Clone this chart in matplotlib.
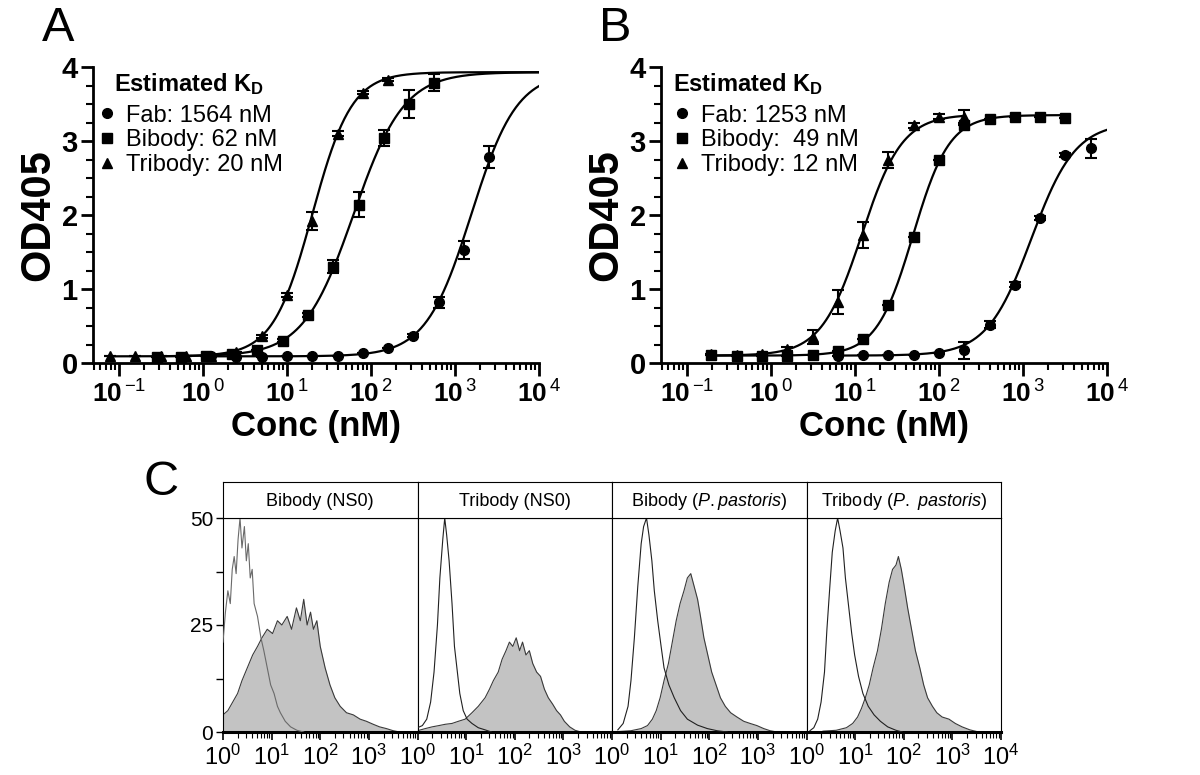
import matplotlib
matplotlib.use('Agg')
import matplotlib.pyplot as plt
import numpy as np
from matplotlib.lines import Line2D
from matplotlib.ticker import LogLocator, NullFormatter, MultipleLocator

plt.rcParams['font.family'] = ['Liberation Sans', 'DejaVu Sans']
plt.rcParams['mathtext.fontset'] = 'custom'
plt.rcParams['mathtext.rm'] = 'Liberation Sans'
plt.rcParams['mathtext.bf'] = 'Liberation Sans:bold'
plt.rcParams['mathtext.it'] = 'Liberation Sans:italic'

# ---- panel A: ELISA, NS0 material ----
fab_a_x = [1.25, 2.5, 5, 10, 20, 40, 80, 160, 320, 640, 1280, 2560]
fab_a_y = [0.09, 0.08, 0.08, 0.09, 0.09, 0.10, 0.14, 0.20, 0.37, 0.82, 1.53, 2.78]
fab_a_err = [0, 0, 0, 0, 0, 0, 0, 0, 0.02, 0.07, 0.12, 0.15]
bib_a_x = [0.28, 0.55, 1.1, 2.2, 4.4, 8.9, 17.75, 35.5, 71, 142, 284, 568]
bib_a_y = [0.08, 0.08, 0.09, 0.12, 0.17, 0.30, 0.65, 1.30, 2.14, 3.04, 3.50, 3.79]
bib_a_err = [0, 0, 0, 0, 0, 0.02, 0.03, 0.09, 0.17, 0.11, 0.19, 0.11]
tri_a_x = [0.078, 0.156, 0.3125, 0.625, 1.25, 2.5, 5, 10, 20, 40, 80, 160]
tri_a_y = [0.10, 0.10, 0.09, 0.09, 0.10, 0.15, 0.36, 0.92, 1.92, 3.10, 3.65, 3.83]
tri_a_err = [0, 0, 0, 0, 0, 0, 0.02, 0.03, 0.12, 0.03, 0.02, 0.02]
# fitted 4PL parameters (bottom, top, KD, hill)
fit_a = {'Fab': (0.09, 3.93, 1564, 1.6), 'Bibody': (0.09, 3.93, 62, 1.45),
         'Tribody': (0.09, 3.93, 20, 1.85)}
labels_a = ['Fab: 1564 nM', 'Bibody: 62 nM', 'Tribody: 20 nM']

# ---- panel B: ELISA, P. pastoris material ----
fab_b_x = [6.25, 12.5, 25, 50, 100, 200, 400, 800, 1600, 3200, 6400]
fab_b_y = [0.09, 0.11, 0.11, 0.11, 0.14, 0.17, 0.52, 1.06, 1.96, 2.81, 2.90]
fab_b_err = [0, 0, 0, 0, 0, 0.11, 0.05, 0.03, 0.03, 0.03, 0.13]
bib_b_x = [0.195, 0.39, 0.78, 1.56, 3.125, 6.25, 12.5, 25, 50, 100, 200, 400, 800, 1600, 3200]
bib_b_y = [0.11, 0.10, 0.10, 0.10, 0.11, 0.16, 0.33, 0.78, 1.70, 2.74, 3.22, 3.30, 3.33, 3.32, 3.31]
bib_b_err = [0] * 15
tri_b_x = [0.195, 0.39, 0.78, 1.56, 3.125, 6.25, 12.5, 25, 50, 100, 200]
tri_b_y = [0.12, 0.11, 0.12, 0.19, 0.35, 0.82, 1.73, 2.74, 3.21, 3.33, 3.33]
tri_b_err = [0, 0, 0, 0.03, 0.09, 0.16, 0.18, 0.11, 0.03, 0.03, 0.09]
fit_b = {'Fab': (0.10, 3.25, 1253, 1.65), 'Bibody': (0.10, 3.35, 49, 2.0),
         'Tribody': (0.10, 3.36, 12, 1.8)}
labels_b = ['Fab: 1253 nM', 'Bibody:  49 nM', 'Tribody: 12 nM']

# ---- panel C: flow cytometry histograms (log10 fluorescence, counts) ----
c_titles = ['Bibody (NS0)', 'Tribody (NS0)', r'Bibody ($\it{P.pastoris}$)',
            r'Tribody ($\it{P.\ pastoris}$)']
ctrl_log = [
    [0.00, 0.05, 0.10, 0.15, 0.19, 0.23, 0.27, 0.31, 0.35, 0.39, 0.44, 0.48, 0.52, 0.56,
     0.60, 0.64, 0.71, 0.78, 0.84, 0.91, 0.98, 1.05, 1.12, 1.18, 1.28, 1.39, 1.52, 1.66],
    [0.00, 0.10, 0.19, 0.27, 0.34, 0.41, 0.46, 0.52, 0.56, 0.60, 0.65, 0.71, 0.76, 0.82,
     0.87, 0.94, 1.02, 1.12, 1.25, 1.39, 1.52],
    [0.12, 0.23, 0.33, 0.39, 0.46, 0.53, 0.60, 0.65, 0.71, 0.76, 0.82, 0.87, 0.94, 1.01,
     1.07, 1.17, 1.28, 1.41, 1.55, 1.76, 1.96, 2.16, 2.37],
    [0.07, 0.15, 0.23, 0.30, 0.37, 0.42, 0.48, 0.53, 0.59, 0.64, 0.69, 0.75, 0.80, 0.86,
     0.93, 0.99, 1.07, 1.16, 1.27, 1.39, 1.52, 1.67, 1.84, 1.97],
]
ctrl_cnt = [
    [21, 28, 33, 30, 38, 41, 37, 45, 50, 43, 48, 40, 44, 36, 38, 30, 27, 22, 19, 15, 11, 9,
     6, 4.5, 2.5, 1.2, 0.4, 0],
    [1, 1.5, 3, 7, 14, 25, 36, 45, 50, 46, 40, 30, 20, 14, 9, 5, 3, 2, 1, 0.5, 0],
    [0.5, 2, 6, 12, 22, 34, 44, 48, 50, 46, 40, 33, 26, 20, 15, 11, 8, 5, 3, 1.6, 0.8, 0.3, 0],
    [0.3, 1, 3, 7, 14, 24, 34, 42, 47, 50, 47, 43, 36, 30, 23, 18, 13, 9, 6, 4, 2.5, 1.2,
     0.4, 0],
]
samp_log = [
    [0.00, 0.10, 0.20, 0.30, 0.39, 0.50, 0.61, 0.71, 0.80, 0.91, 1.02, 1.12, 1.21, 1.32,
     1.41, 1.51, 1.59, 1.66, 1.73, 1.80, 1.86, 1.93, 2.00, 2.10, 2.20, 2.30, 2.41, 2.54,
     2.68, 2.82, 2.95, 3.09, 3.22, 3.36, 3.50, 3.63],
    [0.00, 0.16, 0.30, 0.44, 0.57, 0.71, 0.84, 0.98, 1.12, 1.25, 1.39, 1.48, 1.56, 1.66,
     1.74, 1.82, 1.89, 1.96, 2.03, 2.10, 2.16, 2.23, 2.30, 2.37, 2.45, 2.53, 2.61, 2.69,
     2.78, 2.86, 2.94, 3.02, 3.13, 3.24, 3.36],
    [0.12, 0.39, 0.60, 0.73, 0.83, 0.91, 0.99, 1.07, 1.16, 1.24, 1.32, 1.40, 1.48, 1.55,
     1.62, 1.69, 1.76, 1.82, 1.89, 1.97, 2.05, 2.14, 2.23, 2.33, 2.44, 2.57, 2.71, 2.84,
     2.98, 3.12, 3.25, 3.39],
    [0.34, 0.61, 0.82, 0.95, 1.05, 1.13, 1.21, 1.29, 1.37, 1.46, 1.54, 1.62, 1.70, 1.77,
     1.84, 1.89, 1.95, 2.01, 2.08, 2.16, 2.24, 2.33, 2.41, 2.49, 2.59, 2.68, 2.79, 2.93,
     3.06, 3.20, 3.36, 3.54],
]
samp_cnt = [
    [4, 5, 7, 9, 12, 15, 18, 20, 22, 24, 23, 26, 25, 27, 24, 29, 26, 31, 25, 28, 24, 26,
     20, 15, 11, 8, 6, 4.5, 4, 3, 2.5, 1.8, 1.2, 0.8, 0.3, 0],
    [0.3, 0.8, 1.2, 1.5, 1.8, 2, 2.5, 3, 4.5, 6, 8, 10, 12, 14, 17, 19, 21, 20, 22, 19, 21,
     18, 19, 16, 14, 13, 10, 8, 6.5, 5, 4, 2.5, 1.2, 0.4, 0],
    [0.1, 0.3, 0.8, 1.5, 3, 5, 8, 12, 16, 21, 26, 30, 33, 36, 37, 34, 31, 27, 22, 18, 14,
     11, 8, 6, 4.5, 3.5, 2.5, 2, 1.5, 0.8, 0.3, 0],
    [0.2, 0.4, 1, 2, 3.5, 5.5, 8, 11, 15, 19, 24, 30, 35, 38, 39, 41, 38, 34, 29, 24, 19,
     15, 11, 8, 6, 4.5, 3.5, 3, 2, 1.2, 0.5, 0],
]
ctrl_colors = ['#6a6a6a', '#202020', '#202020', '#202020']


def four_pl(x, bottom, top, kd, hill):
    return bottom + (top - bottom) / (1 + (kd / x) ** hill)


def elisa_panel(ax, series, fits, curve_end):
    markers = ['o', 's', '^']
    names = ['Fab', 'Bibody', 'Tribody']
    handles = []
    for (x, y, e), m, name, cend in zip(series, markers, names, curve_end):
        xs = np.logspace(np.log10(x[0]), np.log10(cend), 400)
        ax.plot(xs, four_pl(xs, *fits[name]), color='black', lw=1.6, zorder=2)
        ax.errorbar(x, y, yerr=e, fmt=m, color='black', ms=7 if m != '^' else 7.5,
                    capsize=4, elinewidth=1.5, capthick=1.5, zorder=3)
        handles.append(Line2D([], [], ls='none', marker=m, color='black', ms=7))
    ax.set_xscale('log')
    ax.set_xlim(0.049, 1e4)
    ax.set_ylim(0, 4)
    ax.spines['top'].set_visible(False)
    ax.spines['right'].set_visible(False)
    for s in ['left', 'bottom']:
        ax.spines[s].set_linewidth(2)
    ax.set_xticks([0.1, 1, 10, 100, 1000, 1e4])
    ax.set_xticklabels([r'$\mathbf{10}^{\,\mathrm{%s}}$' % s
                        for s in ['-1', '0', '1', '2', '3', '4']])
    ax.xaxis.set_minor_locator(LogLocator(base=10, subs=np.arange(2, 10), numticks=20))
    ax.xaxis.set_minor_formatter(NullFormatter())
    ax.set_yticks([0, 1, 2, 3, 4])
    ax.yaxis.set_minor_locator(MultipleLocator(0.25))
    ax.tick_params(which='major', direction='out', length=9, width=2, labelsize=19)
    ax.tick_params(axis='y', which='major', labelsize=21, pad=2)
    ax.tick_params(which='minor', direction='out', length=5, width=1.5)
    for t in ax.get_yticklabels():
        t.set_fontweight('bold')
    ax.set_ylabel('OD405', fontsize=30, fontweight='bold')
    ax.yaxis.set_label_coords(-0.078, 0.5)
    ax.set_xlabel('Conc (nM)', fontsize=25, fontweight='bold', labelpad=2)
    return handles


fig = plt.figure(figsize=(12, 7.75), dpi=100)
W, H = 1200.0, 775.0

axA = fig.add_axes([93 / W, 1 - 363 / H, 446 / W, 296 / H])
axB = fig.add_axes([661 / W, 1 - 363 / H, 446 / W, 296 / H])

hA = elisa_panel(axA, [(fab_a_x, fab_a_y, fab_a_err), (bib_a_x, bib_a_y, bib_a_err),
                       (tri_a_x, tri_a_y, tri_a_err)], fit_a, [1e4, 1e4, 1e4])
hB = elisa_panel(axB, [(fab_b_x, fab_b_y, fab_b_err), (bib_b_x, bib_b_y, bib_b_err),
                       (tri_b_x, tri_b_y, tri_b_err)], fit_b, [1e4, 3200, 200])

for ax, h, labs, tx, lx in [(axA, hA, labels_a, 0.047, 0.016),
                            (axB, hB, labels_b, 0.027, 0.031)]:
    ax.text(tx, 0.985, r'Estimated K$_{\mathbf{D}}$', transform=ax.transAxes,
            fontsize=17, fontweight='bold', va='top', ha='left')
    ax.legend(h, labs, loc='upper left', bbox_to_anchor=(lx, 0.873),
              frameon=False, fontsize=17, handlelength=0.6, handletextpad=0.5,
              labelspacing=0.12, borderpad=0, borderaxespad=0)

fig.text(42 / W, 1 - 6 / H, 'A', fontsize=35, va='top', ha='left')
fig.text(599 / W, 1 - 6 / H, 'B', fontsize=35, va='top', ha='left')
fig.text(143 / W, 1 - 460 / H, 'C', fontsize=35, va='top', ha='left')

# ---- panel C ----
c_left, c_w = 223.0, 194.5
for i in range(4):
    ax = fig.add_axes([(c_left + i * c_w) / W, 1 - 732 / H, c_w / W, 214 / H])
    lx = [10 ** v for v in samp_log[i]]
    ax.fill_between(lx, samp_cnt[i], 0, color='#c3c3c3', lw=0, zorder=1)
    ax.plot(lx, samp_cnt[i], color='#3a3a3a', lw=0.8, zorder=2)
    ax.plot([10 ** v for v in ctrl_log[i]], ctrl_cnt[i], color=ctrl_colors[i], lw=0.8, zorder=3)
    ax.set_xscale('log')
    ax.set_xlim(1, 1e4)
    ax.set_ylim(0, 50)
    for s in ax.spines.values():
        s.set_linewidth(0.8)
    ax.spines['bottom'].set_linewidth(2.2)
    ticks = [1, 10, 100, 1000, 1e4] if i == 3 else [1, 10, 100, 1000]
    ax.set_xticks(ticks)
    ax.set_xticklabels([r'$10^{%d}$' % k for k in range(len(ticks))])
    ax.xaxis.set_minor_locator(LogLocator(base=10, subs=np.arange(2, 10), numticks=20))
    ax.xaxis.set_minor_formatter(NullFormatter())
    ax.tick_params(axis='x', which='major', direction='out', length=6, width=1.2,
                   labelsize=17, pad=3)
    ax.tick_params(axis='x', which='minor', direction='out', length=4, width=0.8)
    if i == 0:
        ax.set_yticks([0, 25, 50])
        ax.yaxis.set_minor_locator(MultipleLocator(12.5))
        ax.tick_params(axis='y', which='major', direction='out', length=5, width=1,
                       labelsize=15, pad=2)
        ax.tick_params(axis='y', which='minor', direction='out', length=5, width=1)
    else:
        ax.set_yticks([])
        ax.tick_params(axis='y', which='both', left=False)
    hx = fig.add_axes([(c_left + i * c_w) / W, 1 - 518 / H, c_w / W, 36 / H])
    hx.set_xticks([])
    hx.set_yticks([])
    for s in hx.spines.values():
        s.set_linewidth(0.8)
    hx.text(0.5, 0.45, c_titles[i], ha='center', va='center', fontsize=13,
            transform=hx.transAxes)

fig.savefig('out.png', dpi=100)
